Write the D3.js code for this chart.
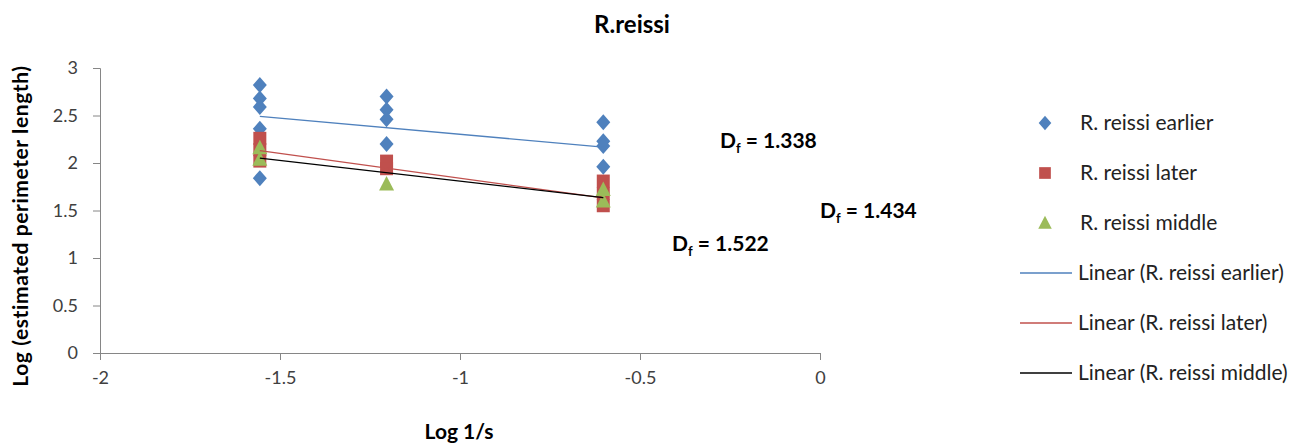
<!DOCTYPE html>
<html>
<head>
<meta charset="utf-8">
<title>R.reissi</title>
<script src="https://cdn.jsdelivr.net/npm/d3@7"></script>
<style>
  body { margin: 0; background: #fff; }
  text { font-family: Lato, "Open Sans", sans-serif; }
</style>
</head>
<body>
<svg width="1315" height="443"></svg>
<script>
// log 1/s for the three box sizes
var xVals = [-1.556, -1.204, -0.602];

// log(estimated perimeter length), one list per box size
var earlier = [[2.82, 2.68, 2.59, 2.36, 1.84], [2.70, 2.56, 2.46, 2.20], [2.43, 2.23, 2.18, 1.96]];
var later   = [[2.26, 2.14, 2.02], [2.02, 1.94], [1.81, 1.68, 1.55]];
var middle  = [[2.16, 2.04], [1.78], [1.72, 1.60]];

// linear trendlines (y = a + b*x), Df = 1 - b
var trendNames = ["earlier", "later", "middle"];
var trendIntercept = [1.964, 1.318, 1.375];
var trendSlope = [-0.338, -0.522, -0.434];
var dfLabels = ["1.338", "1.522", "1.434"];

var xTicks = [-2, -1.5, -1, -0.5, 0];
var yTicks = [0, 0.5, 1, 1.5, 2, 2.5, 3];

var legendLabels = ["R. reissi earlier", "R. reissi later", "R. reissi middle",
  "Linear (R. reissi earlier)", "Linear (R. reissi later)", "Linear (R. reissi middle)"];

var color = { earlier: "#4f81bd", later: "#c0504d", middle: "#9bbb59" };
var lineColor = { earlier: "#4f81bd", later: "#c0504d", middle: "#000000" };

var svg = d3.select("svg");
var x = d3.scaleLinear().domain([-2, 0]).range([100, 820]);
var y = d3.scaleLinear().domain([0, 3]).range([353, 68]);

// axes
var fmt = function(d) { return String(d); };
var xAxis = svg.append("g").attr("transform", "translate(0," + y(0) + ")")
  .call(d3.axisBottom(x).tickValues(xTicks).tickSize(7).tickFormat(fmt));
var yAxis = svg.append("g").attr("transform", "translate(" + x(-2) + ",0)")
  .call(d3.axisLeft(y).tickValues(yTicks).tickSize(7).tickFormat(fmt));
[xAxis, yAxis].forEach(function(a) {
  a.select(".domain").attr("stroke", "#868686");
  a.selectAll(".tick line").attr("stroke", "#868686");
  a.selectAll(".tick text").style("font-size", "18px").attr("fill", "#404040")
    .style("font-family", "Lato, sans-serif");
});
xAxis.selectAll(".tick text").attr("y", 18).attr("dy", "0.71em");
yAxis.selectAll(".tick text").attr("x", -22);

function flatten(groups) {
  var out = [];
  groups.forEach(function(g, i) { g.forEach(function(v) { out.push({ x: xVals[i], y: v }); }); });
  return out;
}

var diamond = "M0,-8L7,0L0,8L-7,0Z";
var square = "M-6.5,-6.5H6.5V6.5H-6.5Z";
var triangle = "M0,-8L7.5,6.5H-7.5Z";

function drawPoints(data, shape, fill) {
  svg.append("g").selectAll("path").data(flatten(data)).enter().append("path")
    .attr("d", shape)
    .attr("transform", function(d) { return "translate(" + x(d.x) + "," + y(d.y) + ")"; })
    .attr("fill", fill);
}
drawPoints(earlier, diamond, color.earlier);
drawPoints(later, square, color.later);
drawPoints(middle, triangle, color.middle);

// trendlines over the markers
var xr = d3.extent(xVals);
trendNames.forEach(function(n, i) {
  svg.append("line")
    .attr("x1", x(xr[0])).attr("y1", y(trendIntercept[i] + trendSlope[i] * xr[0]))
    .attr("x2", x(xr[1])).attr("y2", y(trendIntercept[i] + trendSlope[i] * xr[1]))
    .attr("stroke", lineColor[n]).attr("stroke-width", 1.3);
});

// title and axis titles
svg.append("text").attr("x", 632).attr("y", 33).attr("text-anchor", "middle")
  .style("font-size", "24px").style("font-weight", "bold").text("R.reissi");
svg.append("text").attr("x", 459).attr("y", 439).attr("text-anchor", "middle")
  .style("font-size", "21px").style("font-weight", "bold").text("Log 1/s");
svg.append("text").attr("transform", "translate(28,226) rotate(-90)").attr("text-anchor", "middle")
  .style("font-size", "21px").style("font-weight", "bold").attr("letter-spacing", "0.6px")
  .text("Log (estimated perimeter length)");

// Df labels
var dfPos = [[720, 148], [672, 251], [820, 218]];
dfLabels.forEach(function(v, i) {
  var t = svg.append("text").attr("x", dfPos[i][0]).attr("y", dfPos[i][1])
    .style("font-size", "21px").style("font-weight", "bold");
  t.append("tspan").text("D");
  t.append("tspan").attr("dy", 5).style("font-size", "13px").text("f");
  t.append("tspan").attr("dy", -5).text(" = " + v);
});

// legend
var lg = svg.append("g");
var shapes = [diamond, square, triangle];
var fills = [color.earlier, color.later, color.middle];
legendLabels.forEach(function(l, i) {
  var ly = 123 + i * 50;
  if (i < 3) {
    lg.append("path").attr("d", shapes[i]).attr("fill", fills[i])
      .attr("transform", "translate(1045," + ly + ") scale(0.9)");
  } else {
    lg.append("line").attr("x1", 1020).attr("x2", 1072).attr("y1", ly).attr("y2", ly)
      .attr("stroke", lineColor[trendNames[i - 3]]).attr("stroke-width", 1.3);
  }
  lg.append("text").attr("x", i < 3 ? 1080 : 1078).attr("y", ly).attr("dy", "0.35em")
    .style("font-size", "21px").attr("fill", "#222").text(l);
});
</script>
</body>
</html>
